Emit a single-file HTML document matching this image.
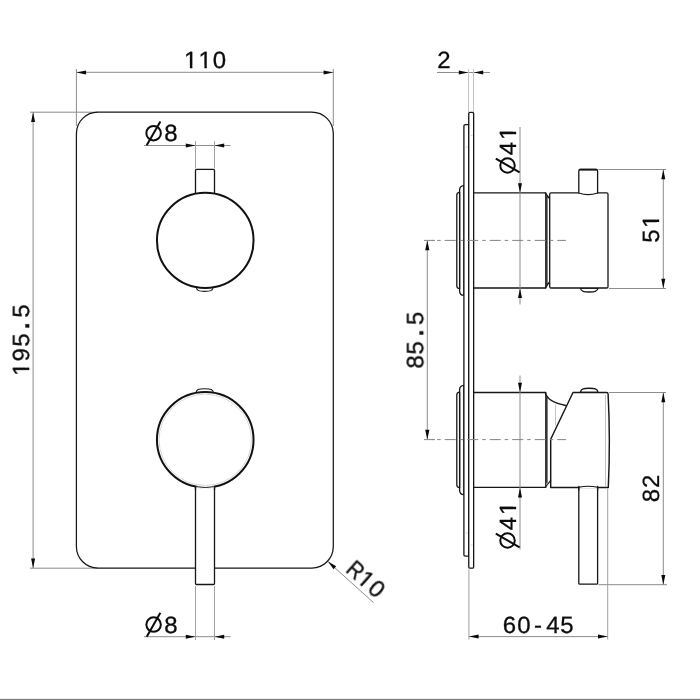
<!DOCTYPE html>
<html><head><meta charset="utf-8">
<style>
html,body{margin:0;padding:0;background:#fff;}
body{width:700px;height:700px;overflow:hidden;position:relative;font-family:"Liberation Sans",sans-serif;}
svg{position:absolute;left:0;top:0;display:block;}
text{font-family:"Liberation Sans",sans-serif;font-size:23.5px;fill:#0c0c0c;stroke:#0c0c0c;stroke-width:.3px;text-rendering:geometricPrecision;}
.t{opacity:.999}
.s{fill:none;stroke:#0c0c0c;stroke-width:2;stroke-linecap:butt;}
.o{fill:none;stroke:#161616;stroke-width:1.3;stroke-linejoin:round;stroke-linecap:round;}
.ow{fill:#fff;stroke:#161616;stroke-width:1.3;stroke-linejoin:round;stroke-linecap:round;}
.k{fill:#fff;stroke:#111;stroke-width:2;}
.d{fill:none;stroke:#8c8c8c;stroke-width:1;}
.l{fill:none;stroke:#c4c4c4;stroke-width:1;}
.e{fill:none;stroke:#a2a2a2;stroke-width:1;}
.a{fill:#0a0a0a;stroke:none;}
.c{fill:none;stroke:#858585;stroke-width:1;stroke-dasharray:11 4 3.5 4;stroke-dashoffset:1.8;}
</style></head>
<body>
<svg width="700" height="700" viewBox="0 0 700 700">
<defs>
<clipPath id="c0"><path clip-rule="evenodd" d="M-40 -40H140V20H-40zM4.65 -2.58H9.7V2.2H4.65zM12.09 -2.58H17.11V2.2H12.09zM18.87 -2.58H23.92V2.2H18.87zM26.3 -2.58H31.32V2.2H26.3z"/></clipPath>
<clipPath id="c1"><path clip-rule="evenodd" d="M-40 -40H140V20H-40zM4.7 -2.58H9.75V2.2H4.7zM12.14 -2.58H17.15V2.2H12.14z"/></clipPath>
<clipPath id="c2"><path clip-rule="evenodd" d="M-40 -40H140V20H-40zM13.03 -2.58H18.09V2.2H13.03zM20.47 -2.58H25.49V2.2H20.47z"/></clipPath>
<clipPath id="c3"><path clip-rule="evenodd" d="M-40 -40H140V20H-40zM39.85 -2.58H44.9V2.2H39.85zM47.28 -2.58H52.3V2.2H47.28z"/></clipPath>
<clipPath id="c4"><path clip-rule="evenodd" d="M-40 -40H140V20H-40zM39.85 -2.58H44.9V2.2H39.85zM47.28 -2.58H52.3V2.2H47.28z"/></clipPath>
<clipPath id="c5"><path clip-rule="evenodd" d="M-40 -40H140V20H-40zM22.4 -2.58H27.45V2.2H22.4zM29.83 -2.58H34.85V2.2H29.83z"/></clipPath>
</defs>
<rect x="0" y="0" width="700" height="700" fill="#fff"/>
<!-- ================= FRONT VIEW ================= -->
<g id="front">
<!-- dim 110 -->
<path class="d" d="M76.400 69V126M333.300 69V126M76.400 72.300H333.300"/>
<path class="a" d="M76.400 72.400l9.700-2v4zM333.300 72.400l-9.700-2v4z"/>
<!-- dim 195.5 -->
<path class="d" d="M30 112.200H98M30 568.200H98M33.100 112.200V568.200"/>
<path class="a" d="M33.100 112.200l-2 9.700h4zM33.100 568.200l-2-9.700h4z"/>
<!-- plate -->
<rect class="o" x="76.400" y="112.100" width="256.900" height="456" rx="21.500" ry="21.500" style="stroke-width:1.250"/>
<!-- dim dia 8 top -->
<path class="d" d="M144 145.500H230.500"/>
<path class="e" d="M195.500 141V168.500M214.500 141V168.500"/>
<path class="a" d="M195.500 145.500l-9.700-2v4zM214.500 145.500l9.700-2v4z"/>
<!-- upper knob -->
<path class="ow" d="M195.500 195V170.500q0-1.200 1.200-1.200h16.600q1.200 0 1.200 1.200V195"/>
<path class="ow" d="M196.100 287C196.800 290.800 199 291.400 204.700 291.400S212.600 290.800 213.300 287" style="stroke-width:1.100"/>
<ellipse class="k" cx="205.25" cy="240.4" rx="48.3" ry="47.6"/>
<!-- lower knob -->
<path class="ow" d="M195.9 393C196.3 389.6 198.5 388.7 204.7 388.7S213.100 389.600 213.500 393" style="stroke-width:1.1"/>
<path class="ow" d="M195.500 480V583.500q0 1 1 1h17q1 0 1-1V480z"/>
<ellipse class="k" cx="205.25" cy="439.8" rx="48.3" ry="47.7"/>
<ellipse cx="205.25" cy="439.8" rx="46.2" ry="45.6" fill="none" stroke="#d4d4d4" stroke-width="0.9"/>
<path d="M196.4 486.7Q205.25 488.3 214.1 486.7" fill="none" stroke="#fff" stroke-width="3"/>
<path d="M195.5 486.6Q205.25 488.4 215 486.6" fill="none" stroke="#1a1a1a" stroke-width="1"/>
<path class="o" d="M195.5 487V490M214.5 487V490" style="stroke-linecap:butt"/>
<!-- dim dia 8 bottom -->
<path class="d" d="M144 636.700H230.500"/>
<path class="e" d="M195.500 586V640M214.500 586V640"/>
<path class="a" d="M195.500 636.700l-9.700-2v4zM214.500 636.700l9.700-2v4z"/>
<!-- R10 leader -->
<path class="d" d="M328 561.600L373.600 602.700"/>
<path class="a" d="M328 561.600l8.200 4.600l-2.700 3z"/>
</g>

<!-- ================= SIDE VIEW ================= -->
<g id="side">
<!-- dim 2 -->
<path class="d" d="M437 72.500H490"/>
<path class="l" d="M468.500 69V112M473.500 69V112"/>
<path class="a" d="M468.300 72.500l-9.500-2v4zM473.700 72.500l9.500-2v4z"/>
<!-- dim 85.5 -->
<path class="d" d="M427.300 240.500V439.500"/>
<path class="a" d="M427.300 240.500l-2.100 9.700h4.200zM427.300 439.500l-2.100-9.700h4.200z"/>

<!-- flanges upper -->
<path class="ow" d="M463.900 185.700q-4.300 0.300-4.300 4.500V291q0 4.200 4.300 4.400z"/>
<path class="ow" d="M459.600 192.300q-2.800 0.200-2.800 2.600V286q0 2.400 2.800 2.600z"/>
<!-- flanges lower -->
<path class="ow" d="M463.900 385.300q-4.300 0.300-4.300 4.500V490.200q0 4.200 4.300 4.400z"/>
<path class="ow" d="M459.600 392.200q-2.800 0.200-2.800 2.600V485q0 2.400 2.800 2.600z"/>
<!-- back plate -->
<path class="ow" d="M463.900 554.800V126q0-1.400 1.400-1.400h3.400V556.200h-3.400q-1.400 0-1.400-1.400z"/>

<!-- upper cylinder -->
<path class="ow" d="M473.600 192.900H545.800V288H473.600"/>
<path class="o" d="M546.900 196V285M545.500 193.100L549.700 198.900M545.500 287.800L549.700 281.500"/>
<!-- upper knob side -->
<path class="ow" d="M580.300 288C581 291.700 584 292 589.200 292S597.400 291.700 598.100 288z"/>
<path class="ow" d="M551 192.900h55.700q1.300 0 1.300 1.300v92.500q0 1.300-1.300 1.300h-55.700q-1.300 0-1.300-1.300v-92.500q0-1.300 1.300-1.300z"/>
<path class="ow" d="M578.800 193V171q0-1.500 1.500-1.500h15.800q1.500 0 1.500 1.500V193Q588.200 196.400 578.800 193z"/>
<path class="o" d="M580 169.600H596.400" style="stroke-width:1.700"/>
<!-- dim dia 41 upper -->
<path class="d" d="M520 127V304.500"/>
<path class="a" d="M520 193l-2-9.700h4zM520 288.200l-2 9.700h4z"/>

<!-- dim 51 -->
<path class="d" d="M598.500 169.500H666M609 288.500H666M663.300 169.500V288.500"/>
<path class="a" d="M663.300 169.500l-2 9.700h4zM663.300 288.500l-2-9.700h4z"/>

<!-- lower cylinder -->
<path class="ow" d="M473.600 392.500H545.800V487.400H473.600"/>
<!-- neck curve -->
<path class="o" d="M545.300 392.700Q547.500 402 565.700 405.500" style="stroke-width:1.400"/>
<path class="o" d="M546.900 397V482.500"/>
<path class="l" d="M555.500 404.500V425.500"/>
<!-- lever side -->
<path class="ow" d="M578.800 486V583.200q0 1 1 1h16.800q1 0 1-1V486z"/>
<!-- handle body -->
<path class="ow" d="M580.300 392.500C581 388.600 584 388.300 589.200 388.300S597.400 388.600 598.100 392.500z" style="stroke-width:1.400"/>
<path class="ow" d="M573 392.500H606.500Q608 392.500 608.100 394Q610.500 440 608.300 487.400H550.700V439.300z" style="stroke-width:1.450"/>
<path d="M579.600 487.400H597" fill="none" stroke="#fff" stroke-width="2.400"/>
<path class="o" d="M578.800 487.300Q588.200 485.200 597.600 487.300" style="stroke-width:1.100"/>
<path class="o" d="M578.800 486.500V490M597.600 486.500V490"/>
<path class="l" d="M605.500 395V486"/>
<path class="o" d="M550.700 480.300L545.500 487" style="stroke-width:1.100"/>
<!-- main plate -->
<path class="ow" d="M468.750 567V113.600q0-1.200 1.200-1.200h2.500q1.200 0 1.200 1.200V567q0 1.200-1.200 1.200h-2.500q-1.200 0-1.200-1.200z"/>
<path d="M469.600 135.400H472.800M469.600 545H472.800M464.800 147H467.800M464.800 533H467.800" fill="none" stroke="#dcdcdc" stroke-width="1"/>
<!-- dim dia 41 lower -->
<path class="d" d="M520 375.500V549.500"/>
<path class="a" d="M520 392.500l-2-9.700h4zM520 487.700l-2 9.700h4z"/>

<!-- dim 82 -->
<path class="d" d="M609 392.500H666M598.500 584.700H667M663.300 392.500V584.700"/>
<path class="a" d="M663.300 392.500l-2 9.700h4zM663.300 584.700l-2-9.700h4z"/>

<!-- centre lines -->
<path class="c" d="M424 240.400H566"/>
<path class="c" d="M424 439.600H566"/>
<path d="M432 240.400H435M432 439.600H435" fill="none" stroke="#858585" stroke-width="1"/>
<!-- dim 60-45 -->
<path class="d" d="M468.900 636.600H607.700"/>
<path class="e" d="M468.900 569.500V639.500M607.700 488.500V639.500"/>
<path class="a" d="M468.900 636.600l9.700-2v4zM607.700 636.600l-9.700-2v4z"/>
</g>

<!-- bottom bar -->
<rect x="0" y="699" width="700" height="1" fill="#7c7c7c"/>
<rect x="0" y="698" width="700" height="1" fill="#ececec"/>

<g class="t">
<text transform="translate(180 68.1) scale(1.02 1)" x="3.95 18.16 32.19" y="0" clip-path="url(#c0)">110</text>
<text transform="translate(29.1 380) rotate(-90) scale(1.02 1)" x="3.99 18.08 32.61 48.31 61.04" y="0" clip-path="url(#c1)">195<tspan font-size="34.07">.</tspan>5</text>
<g transform="translate(153.6 133.15)" class="s"><title>Ø</title><circle cx="0" cy="0" r="7.25"/><path d="M-6.9 12.1L6.8 -11.7"/></g>
<text transform="translate(160 141.3) scale(1.02 1)" x="4.05" y="0">8</text>
<g transform="translate(153.6 624.55)" class="s"><title>Ø</title><circle cx="0" cy="0" r="7.25"/><path d="M-6.9 12.1L6.8 -11.7"/></g>
<text transform="translate(160 632.8) scale(1.02 1)" x="4.05" y="0">8</text>
<text transform="translate(346.3 572.5) rotate(41.5) scale(1.02 1)" x="-1.97 12.33 26.31" y="0" clip-path="url(#c2)"><tspan textLength="14.6" lengthAdjust="spacingAndGlyphs">R</tspan>10</text>
<text transform="translate(430 68) scale(1.02 1)" x="7.14" y="0">2</text>
<text transform="translate(423.2 380) rotate(-90) scale(1.02 1)" x="11.11 24.86 41.34 53.78" y="0">85<tspan font-size="34.07">.</tspan>5</text>
<g transform="translate(507.5 165.5) rotate(-90)" class="s"><title>Ø</title><circle cx="0" cy="0" r="7.25"/><path d="M-6.9 12.1L6.8 -11.7"/></g>
<text transform="translate(515.8 180) rotate(-90) scale(1.02 1)" x="24.32 39.14" y="0" clip-path="url(#c3)">41</text>
<g transform="translate(507.5 540.5) rotate(-90)" class="s"><title>Ø</title><circle cx="0" cy="0" r="7.25"/><path d="M-6.9 12.1L6.8 -11.7"/></g>
<text transform="translate(515.8 555) rotate(-90) scale(1.02 1)" x="24.32 39.14" y="0" clip-path="url(#c4)">41</text>
<text transform="translate(659.3 250) rotate(-90) scale(1.02 1)" x="7.16 21.69" y="0" clip-path="url(#c5)">51</text>
<text transform="translate(659.3 510) rotate(-90) scale(1.02 1)" x="7.68 21.55" y="0">82</text>
<text transform="translate(500 632.8) scale(1.02 1)" x="2.7 16.99 33.39 45.35 59.17" y="0">60-45</text>
</g>
</svg>
</body></html>
